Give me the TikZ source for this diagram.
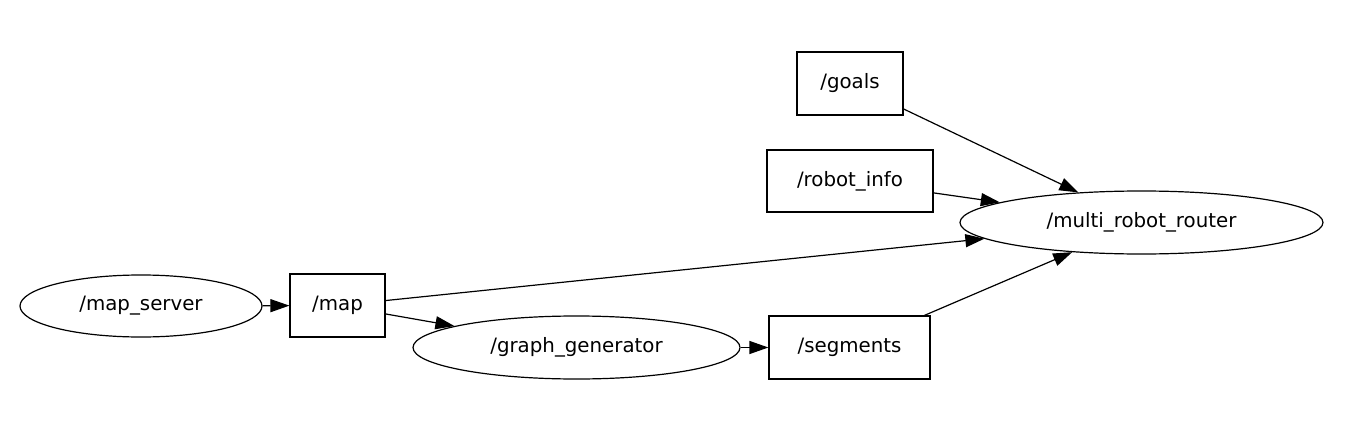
\documentclass[tikz,border=0pt]{standalone}
\usepackage{fontspec}
\setmainfont{DejaVu Sans}
\usetikzlibrary{shapes.geometric,arrows.meta}
\tikzset{
    topic/.style={draw, rectangle, line width=1.2pt, inner sep=0pt},
    knoten/.style={draw, ellipse, line width=1.2pt, inner sep=0pt},
    kante/.style={line width=1.2pt, -{Triangle[length=19pt,width=13pt]}, shorten >=0pt}
}
\begin{document}
\begin{tikzpicture}[x=1pt,y=-1pt,font=\fontsize{19.8}{24}\selectfont]
    % Bildgroesse wie im Original festlegen:
    \useasboundingbox (0,0) rectangle (1347,428);
    % Die Knoten (Ellipsen) und Topics (Rechtecke):
    \node[topic, minimum width=106pt, minimum height=63pt] (goals) at (850,83.5) {/goals};
    \node[topic, minimum width=166pt, minimum height=62pt] (robotinfo) at (850,181) {/robot\_info};
    \node[knoten, minimum width=363pt, minimum height=63pt] (router) at (1141.5,222.5) {/multi\_robot\_router};
    \node[knoten, minimum width=242pt, minimum height=62pt] (mapserver) at (141,306) {/map\_server};
    \node[topic, minimum width=95pt, minimum height=63pt] (map) at (337.5,305.5) {/map};
    \node[knoten, minimum width=327pt, minimum height=63pt] (graphgen) at (576.5,347.5) {/graph\_generator};
    \node[topic, minimum width=161pt, minimum height=63pt] (segments) at (849.5,347.5) {/segments};
    % Die Kanten:
    \draw[kante] (mapserver) -- (map);
    \draw[kante] (map) -- (graphgen);
    \draw[kante] (graphgen) -- (segments);
    \draw[kante] (map) -- (router);
    \draw[kante] (goals) -- (router);
    \draw[kante] (robotinfo) -- (router);
    \draw[kante] (segments) -- (router);
\end{tikzpicture}
\end{document}
